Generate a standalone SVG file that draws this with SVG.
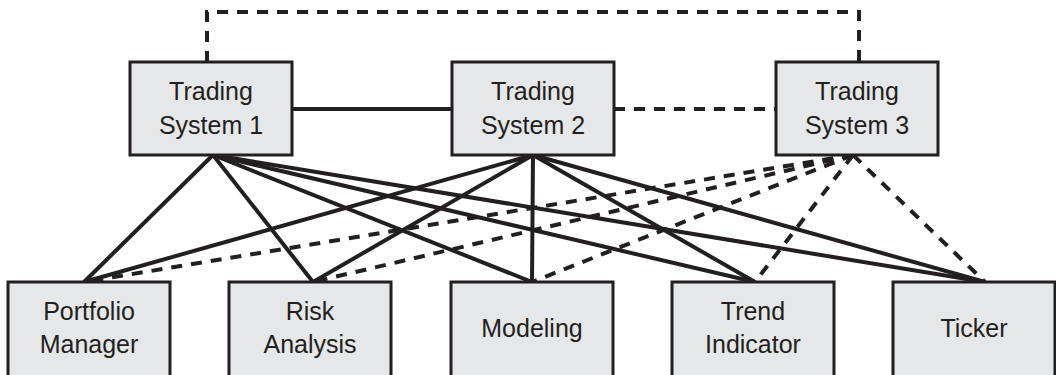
<svg xmlns="http://www.w3.org/2000/svg" width="1056" height="375" viewBox="0 0 1056 375">
<style>
.box{fill:#e6e7e8;stroke:#231f20;stroke-width:3}
.t{font-family:"Liberation Sans",Arial,sans-serif;font-size:25px;fill:#231f20;text-anchor:middle}
.s{fill:none;stroke:#231f20;stroke-width:4}
.d{fill:none;stroke:#231f20;stroke-width:4;stroke-dasharray:11 9}
</style>
<rect width="1056" height="375" fill="#ffffff"/>
<g id="connectors">
<path class="d" d="M207,62 V12 H859 V62"/>
<line class="s" x1="292" y1="109" x2="452" y2="109"/>
<line class="d" x1="614" y1="109" x2="776" y2="109"/>
<line class="s" x1="213" y1="155" x2="84" y2="282"/>
<line class="s" x1="213" y1="155" x2="313" y2="282"/>
<line class="s" x1="213" y1="155" x2="532" y2="282"/>
<line class="s" x1="213" y1="155" x2="755" y2="282"/>
<line class="s" x1="213" y1="155" x2="985" y2="282"/>
<line class="s" x1="533" y1="155" x2="84" y2="282"/>
<line class="s" x1="533" y1="155" x2="313" y2="282"/>
<line class="s" x1="533" y1="155" x2="532" y2="282"/>
<line class="s" x1="533" y1="155" x2="755" y2="282"/>
<line class="s" x1="533" y1="155" x2="985" y2="282"/>
<line class="d" x1="853" y1="155" x2="84" y2="282"/>
<line class="d" x1="853" y1="155" x2="313" y2="282"/>
<line class="d" x1="853" y1="155" x2="532" y2="282"/>
<line class="d" x1="853" y1="155" x2="755" y2="282"/>
<line class="d" x1="853" y1="155" x2="985" y2="282"/>
</g>
<g id="ts1"><rect class="box" x="130" y="62" width="162" height="93"/><text class="t" x="211" y="100">Trading</text><text class="t" x="211" y="134">System 1</text></g>
<g id="ts2"><rect class="box" x="452" y="62" width="162" height="93"/><text class="t" x="533" y="100">Trading</text><text class="t" x="533" y="134">System 2</text></g>
<g id="ts3"><rect class="box" x="776" y="62" width="162" height="93"/><text class="t" x="857" y="100">Trading</text><text class="t" x="857" y="134">System 3</text></g>
<g id="pm"><rect class="box" x="8" y="282" width="162" height="110"/><text class="t" x="89" y="320">Portfolio</text><text class="t" x="89" y="353">Manager</text></g>
<g id="ra"><rect class="box" x="229" y="282" width="162" height="110"/><text class="t" x="310" y="320">Risk</text><text class="t" x="310" y="353">Analysis</text></g>
<g id="mod"><rect class="box" x="451" y="282" width="162" height="110"/><text class="t" x="532" y="337">Modeling</text></g>
<g id="ti"><rect class="box" x="672" y="282" width="162" height="110"/><text class="t" x="753" y="320">Trend</text><text class="t" x="753" y="353">Indicator</text></g>
<g id="tk"><rect class="box" x="893" y="282" width="162" height="110"/><text class="t" x="974" y="337">Ticker</text></g>
</svg>
